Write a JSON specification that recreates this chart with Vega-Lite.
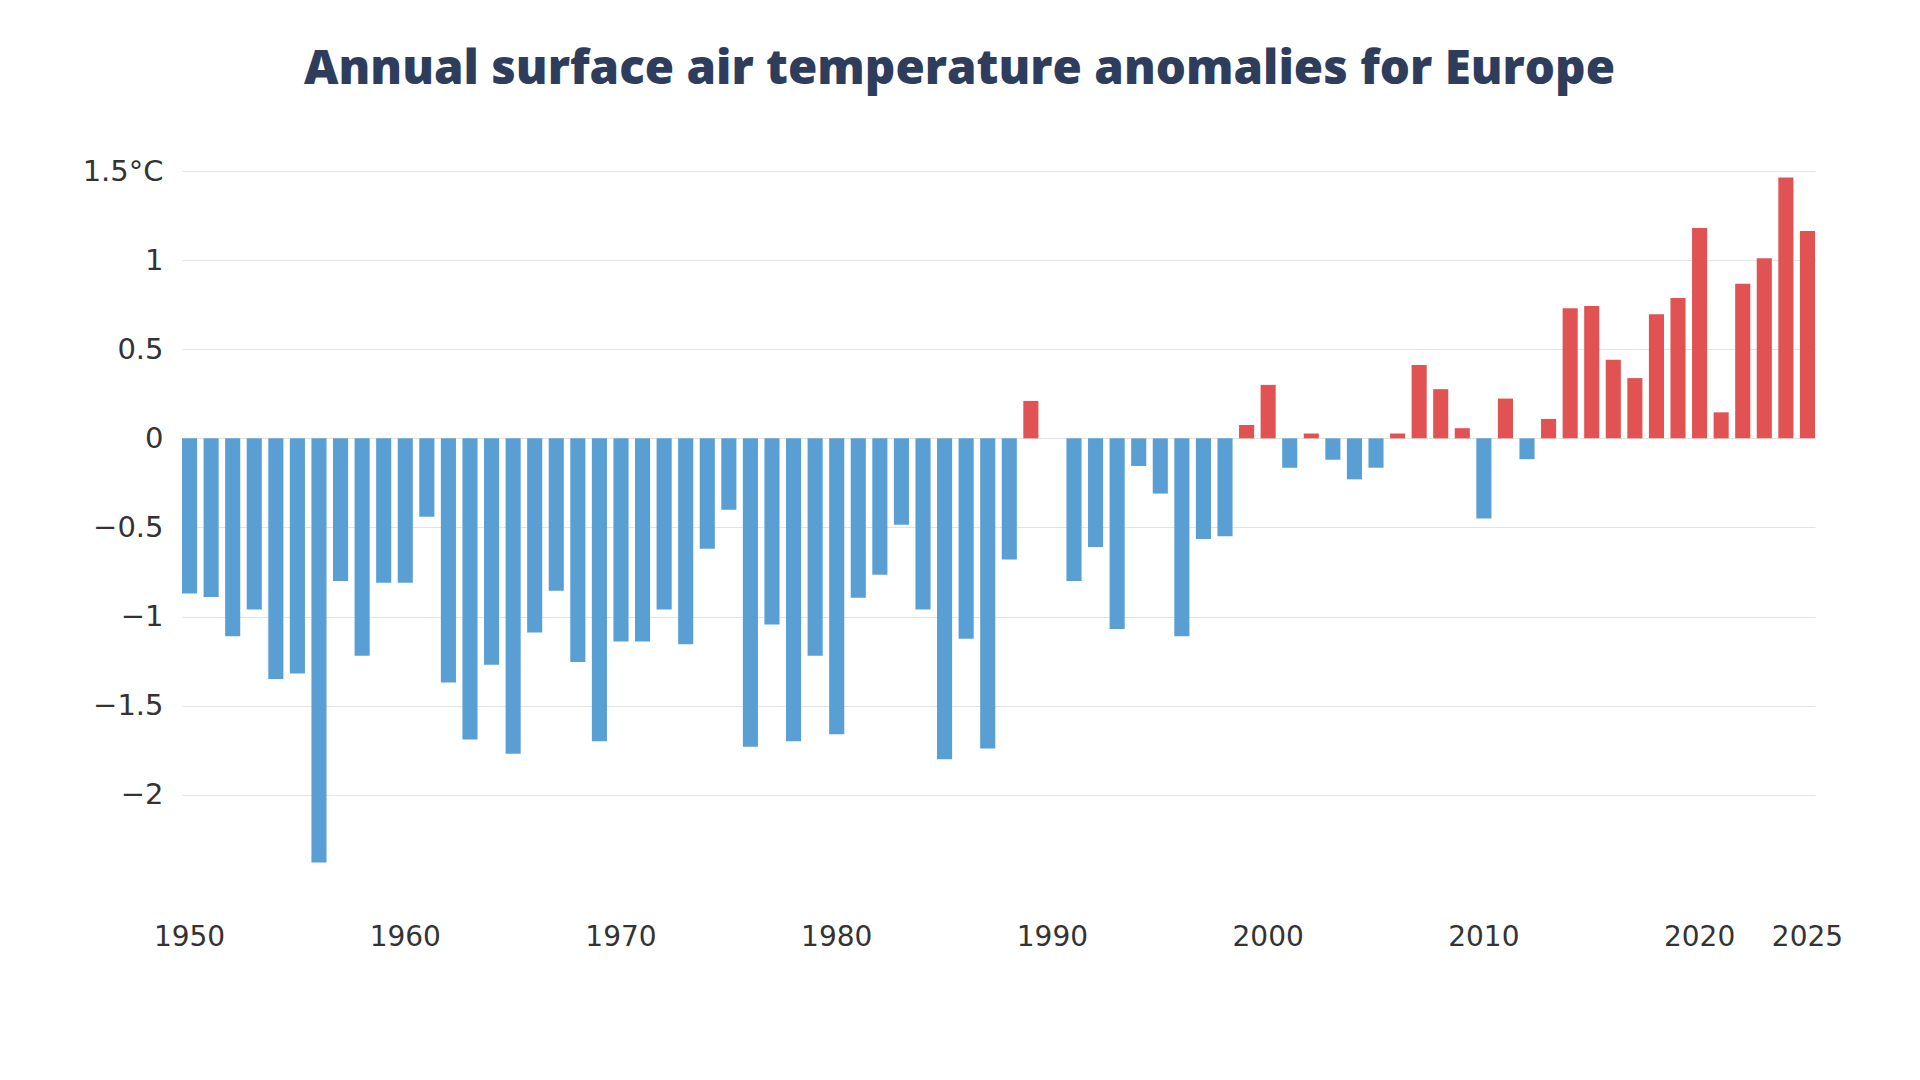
{
  "$schema": "https://vega.github.io/schema/vega-lite/v6.json",
  "autosize": "none",
  "width": 1633,
  "height": 704,
  "padding": {"left": 182, "top": 171, "right": 105, "bottom": 205},
  "background": "white",
  "title": {
    "text": "Annual surface air temperature anomalies for Europe",
    "font": "Open Sans",
    "fontSize": 47.5,
    "fontWeight": 800,
    "color": "#2e3d5c",
    "anchor": "middle",
    "dx": -39,
    "offset": 64
  },
  "data": {
    "values": [
      {"year": 1950, "v": -0.87}, {"year": 1951, "v": -0.89}, {"year": 1952, "v": -1.11}, {"year": 1953, "v": -0.96},
      {"year": 1954, "v": -1.35}, {"year": 1955, "v": -1.32}, {"year": 1956, "v": -2.38}, {"year": 1957, "v": -0.80},
      {"year": 1958, "v": -1.22}, {"year": 1959, "v": -0.81}, {"year": 1960, "v": -0.81}, {"year": 1961, "v": -0.44},
      {"year": 1962, "v": -1.37}, {"year": 1963, "v": -1.69}, {"year": 1964, "v": -1.27}, {"year": 1965, "v": -1.77},
      {"year": 1966, "v": -1.09}, {"year": 1967, "v": -0.855}, {"year": 1968, "v": -1.255}, {"year": 1969, "v": -1.70},
      {"year": 1970, "v": -1.14}, {"year": 1971, "v": -1.14}, {"year": 1972, "v": -0.96}, {"year": 1973, "v": -1.155},
      {"year": 1974, "v": -0.62}, {"year": 1975, "v": -0.40}, {"year": 1976, "v": -1.73}, {"year": 1977, "v": -1.045},
      {"year": 1978, "v": -1.70}, {"year": 1979, "v": -1.22}, {"year": 1980, "v": -1.66}, {"year": 1981, "v": -0.895},
      {"year": 1982, "v": -0.765}, {"year": 1983, "v": -0.485}, {"year": 1984, "v": -0.96}, {"year": 1985, "v": -1.80},
      {"year": 1986, "v": -1.125}, {"year": 1987, "v": -1.74}, {"year": 1988, "v": -0.68}, {"year": 1989, "v": 0.21},
      {"year": 1990, "v": 0.0}, {"year": 1991, "v": -0.80}, {"year": 1992, "v": -0.61}, {"year": 1993, "v": -1.07},
      {"year": 1994, "v": -0.155}, {"year": 1995, "v": -0.31}, {"year": 1996, "v": -1.11}, {"year": 1997, "v": -0.565},
      {"year": 1998, "v": -0.55}, {"year": 1999, "v": 0.075}, {"year": 2000, "v": 0.30}, {"year": 2001, "v": -0.165},
      {"year": 2002, "v": 0.027}, {"year": 2003, "v": -0.12}, {"year": 2004, "v": -0.23}, {"year": 2005, "v": -0.165},
      {"year": 2006, "v": 0.027}, {"year": 2007, "v": 0.412}, {"year": 2008, "v": 0.276}, {"year": 2009, "v": 0.057},
      {"year": 2010, "v": -0.45}, {"year": 2011, "v": 0.223}, {"year": 2012, "v": -0.117}, {"year": 2013, "v": 0.109},
      {"year": 2014, "v": 0.73}, {"year": 2015, "v": 0.742}, {"year": 2016, "v": 0.441}, {"year": 2017, "v": 0.338},
      {"year": 2018, "v": 0.696}, {"year": 2019, "v": 0.788}, {"year": 2020, "v": 1.18}, {"year": 2021, "v": 0.146},
      {"year": 2022, "v": 0.868}, {"year": 2023, "v": 1.011}, {"year": 2024, "v": 1.464}, {"year": 2025, "v": 1.163}
    ]
  },
  "mark": {"type": "bar"},
  "encoding": {
    "x": {
      "field": "year",
      "type": "ordinal",
      "scale": {"paddingInner": 0.3, "paddingOuter": 0},
      "axis": {
        "title": null,
        "values": [1950, 1960, 1970, 1980, 1990, 2000, 2010, 2020, 2025],
        "labelAngle": 0,
        "ticks": false,
        "domain": false,
        "grid": false,
        "labelFont": "DejaVu Sans",
        "labelFontSize": 28,
        "labelColor": "#333333",
        "labelPadding": 48
      }
    },
    "y": {
      "field": "v",
      "type": "quantitative",
      "scale": {"domain": [-2.45, 1.5], "nice": false, "zero": false},
      "axis": {
        "title": null,
        "values": [-2, -1.5, -1, -0.5, 0, 0.5, 1, 1.5],
        "labelExpr": "datum.value == 1.5 ? '1.5°C' : replace(format(datum.value, ''), '-', '−')",
        "ticks": false,
        "domain": false,
        "grid": true,
        "gridColor": "#e3e3e3",
        "gridWidth": 1.2,
        "labelFont": "DejaVu Sans",
        "labelFontSize": 29,
        "labelColor": "#333333",
        "labelPadding": 19
      }
    },
    "color": {
      "condition": {"test": "datum.v >= 0", "value": "#e15353"},
      "value": "#5a9fd3"
    }
  },
  "config": {"view": {"stroke": null}}
}
